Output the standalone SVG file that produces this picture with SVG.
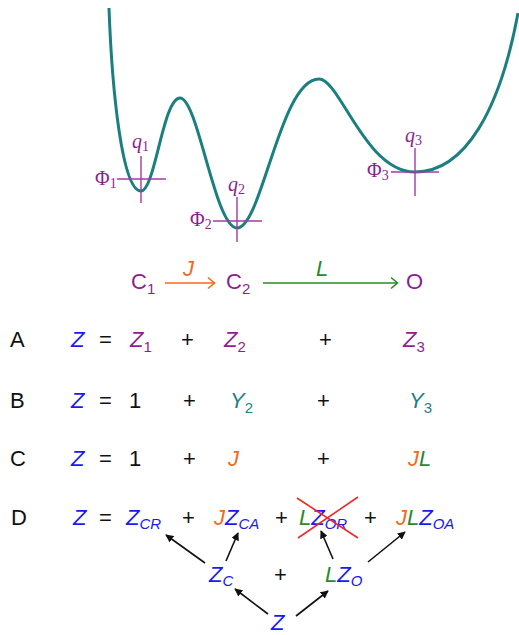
<svg xmlns="http://www.w3.org/2000/svg" width="519" height="635" viewBox="0 0 519 635">
<style>
.s{font-family:"Liberation Sans",Arial,sans-serif;font-size:22px}
.i{font-style:italic}
.sub{font-size:15px}
.g{font-family:"Liberation Serif","Times New Roman",serif;font-size:20px;fill:#8E1F8E}
.gs{font-size:14px}
.k{fill:#111}
.b{fill:#1A1AF0}
.p{fill:#8E1F8E}
.t{fill:#1F7F80}
.o{fill:#F26A1B}
.gr{fill:#2A8A2A}
.cross{stroke:#A33AA3;stroke-width:1.4;fill:none}
.ar{stroke:#111;stroke-width:1.6;fill:none;marker-end:url(#ah)}
</style>
<defs>
<marker id="ah" viewBox="0 0 10 10" refX="9" refY="5" markerWidth="5" markerHeight="5" orient="auto" markerUnits="strokeWidth">
<path d="M0,0 L10,5 L0,10 z" fill="#111"/>
</marker>
</defs>
<rect width="519" height="635" fill="#fff"/>

<g id="energy-curve">
<path d="M109,8 C112,90 122,191 141,191 C155,191 163,98 180,98 C198,98 215,228 237,228 C262,228 280,79 319,79 C340,79 365,172 415,172 C465,172 500,110 518,13" stroke="#1B7F80" stroke-width="3" fill="none"/>
</g>

<g id="minimum-1">
<line class="cross" x1="117" y1="179" x2="166" y2="179"/>
<line class="cross" x1="141" y1="156" x2="141" y2="203"/>
<text class="g" x="95" y="185">Φ<tspan class="gs" dy="3">1</tspan></text>
<text class="g" x="132" y="148"><tspan font-style="italic">q</tspan><tspan class="gs" dy="3">1</tspan></text>
</g>
<g id="minimum-2">
<line class="cross" x1="213" y1="221" x2="262" y2="221"/>
<line class="cross" x1="237" y1="197" x2="237" y2="242"/>
<text class="g" x="190" y="226">Φ<tspan class="gs" dy="3">2</tspan></text>
<text class="g" x="228" y="191"><tspan font-style="italic">q</tspan><tspan class="gs" dy="3">2</tspan></text>
</g>
<g id="minimum-3">
<line class="cross" x1="391" y1="172" x2="439" y2="172"/>
<line class="cross" x1="415" y1="148" x2="415" y2="196"/>
<text class="g" x="367" y="177">Φ<tspan class="gs" dy="3">3</tspan></text>
<text class="g" x="405" y="142"><tspan font-style="italic">q</tspan><tspan class="gs" dy="3">3</tspan></text>
</g>

<g id="scheme">
<text class="s p" x="131" y="289" font-size="21">C<tspan class="sub" dy="5">1</tspan></text>
<text class="s p" x="226" y="289" font-size="21">C<tspan class="sub" dy="5">2</tspan></text>
<text class="s p" x="406" y="289" font-size="21">O</text>
<g id="arrow-J">
<line x1="165" y1="283" x2="214" y2="283" stroke="#F26A1B" stroke-width="1.6"/>
<polyline points="208,277.5 214.5,283 208,288.5" stroke="#F26A1B" stroke-width="1.6" fill="none"/>
<text class="s i o" x="183" y="276" font-size="20">J</text>
</g>
<g id="arrow-L">
<line x1="263" y1="283" x2="397" y2="283" stroke="#2A8A2A" stroke-width="1.6"/>
<polyline points="391,277.5 397.5,283 391,288.5" stroke="#2A8A2A" stroke-width="1.6" fill="none"/>
<text class="s i gr" x="316" y="276" font-size="20">L</text>
</g>
</g>

<g id="row-A">
<text class="s k" x="10" y="347">A</text>
<text class="s i b" x="71" y="347">Z</text>
<text class="s k" x="99" y="347">=</text>
<text class="s i p" x="130" y="347">Z<tspan class="sub" font-style="normal" dy="5">1</tspan></text>
<text class="s k" x="181" y="347">+</text>
<text class="s i p" x="224" y="347">Z<tspan class="sub" font-style="normal" dy="5">2</tspan></text>
<text class="s k" x="319" y="347">+</text>
<text class="s i p" x="403" y="347">Z<tspan class="sub" font-style="normal" dy="5">3</tspan></text>
</g>

<g id="row-B">
<text class="s k" x="10" y="408">B</text>
<text class="s i b" x="71" y="408">Z</text>
<text class="s k" x="99" y="408">=</text>
<text class="s k" x="129" y="408">1</text>
<text class="s k" x="183" y="408">+</text>
<text class="s i t" x="230" y="408">Y<tspan class="sub" font-style="normal" dy="5">2</tspan></text>
<text class="s k" x="317" y="408">+</text>
<text class="s i t" x="409" y="408">Y<tspan class="sub" font-style="normal" dy="5">3</tspan></text>
</g>

<g id="row-C">
<text class="s k" x="10" y="466">C</text>
<text class="s i b" x="71" y="466">Z</text>
<text class="s k" x="99" y="466">=</text>
<text class="s k" x="129" y="466">1</text>
<text class="s k" x="183" y="466">+</text>
<text class="s i o" x="228" y="466">J</text>
<text class="s k" x="317" y="466">+</text>
<text class="s i" x="408" y="466"><tspan class="o">J</tspan><tspan class="gr">L</tspan></text>
</g>

<g id="row-D">
<text class="s k" x="11" y="525">D</text>
<text class="s i b" x="73" y="525">Z</text>
<text class="s k" x="99" y="525">=</text>
<text class="s i b" x="126" y="525">Z<tspan class="sub" dy="4">CR</tspan></text>
<text class="s k" x="182" y="525">+</text>
<text class="s i" x="214" y="525"><tspan class="o">J</tspan><tspan class="b">Z</tspan><tspan class="sub b" dy="4">CA</tspan></text>
<text class="s k" x="275" y="525">+</text>
<text class="s i" x="299" y="525"><tspan class="gr">L</tspan><tspan class="b">Z</tspan><tspan class="sub b" dy="4">OR</tspan></text>
<g id="strike">
<line x1="297" y1="498" x2="358" y2="538" stroke="#F02828" stroke-width="1.6"/>
<line x1="298" y1="538" x2="358" y2="497" stroke="#F02828" stroke-width="1.6"/>
</g>
<text class="s k" x="364" y="525">+</text>
<text class="s i" x="396" y="525"><tspan class="o">J</tspan><tspan class="gr">L</tspan><tspan class="b">Z</tspan><tspan class="sub b" dy="4">OA</tspan></text>
</g>

<g id="node-ZC">
<text class="s i b" x="209" y="582">Z<tspan class="sub" dy="4">C</tspan></text>
</g>
<text class="s k" x="274" y="582">+</text>
<g id="node-LZO">
<text class="s i" x="325" y="582"><tspan class="gr">L</tspan><tspan class="b">Z</tspan><tspan class="sub b" dy="4">O</tspan></text>
</g>
<g id="node-Z">
<text class="s i b" x="271" y="630">Z</text>
</g>

<g id="connectors">
<line class="ar" x1="205" y1="563" x2="166" y2="535"/>
<line class="ar" x1="226" y1="561" x2="238" y2="533"/>
<line class="ar" x1="333" y1="559" x2="321" y2="531"/>
<line class="ar" x1="368" y1="562" x2="405" y2="532"/>
<line class="ar" x1="268" y1="614" x2="235" y2="589"/>
<line class="ar" x1="296" y1="616" x2="328" y2="591"/>
</g>
</svg>
